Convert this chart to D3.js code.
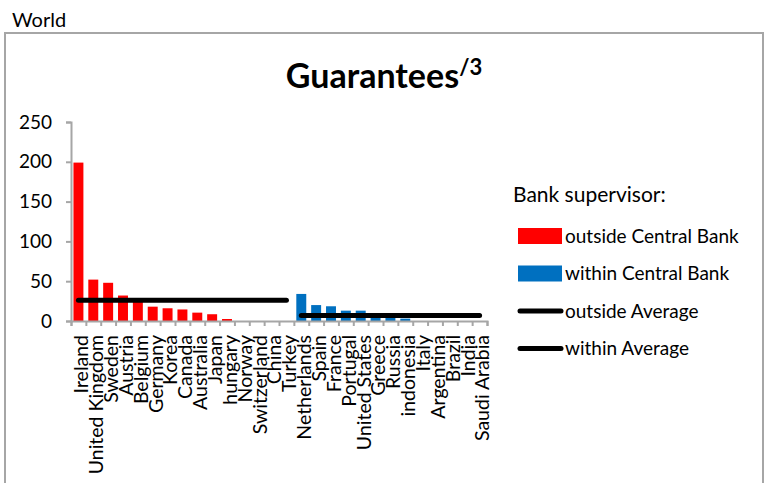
<!DOCTYPE html>
<html>
<head>
<meta charset="utf-8">
<script src="https://cdn.jsdelivr.net/npm/d3@7"></script>
<style>
  html, body { margin: 0; padding: 0; background: #fff; }
  svg { display: block; font-family: Lato, "Open Sans", sans-serif; }
</style>
</head>
<body>
<svg id="chart" width="765" height="483"></svg>
<script>
// Countries grouped by where the bank supervisor sits
const outsideCountries = ["Ireland", "United Kingdom", "Sweden", "Austria", "Belgium", "Germany", "Korea",
  "Canada", "Australia", "Japan", "hungary", "Norway", "Switzerland", "China", "Turkey"];
const outsideValues = [199, 52, 48, 32, 25, 18, 16, 14.5, 10.5, 8.5, 2.5, 0, 0, 0, 0];

const withinCountries = ["Netherlands", "Spain", "France", "Portugal", "United States", "Greece", "Russia",
  "indonesia", "Italy", "Argentina", "Brazil", "India", "Saudi Arabia"];
const withinValues = [34, 20, 18.5, 13, 13, 6, 5, 3, 0, 0, 0, 0, 0];

// Group averages drawn as horizontal lines
const averageNames = ["outside Average", "within Average"];
const averageValues = [26, 7];

const yTicks = [0, 50, 100, 150, 200, 250];

const groups = [
  { key: "outside Central Bank", color: "#ff0000", countries: outsideCountries, values: outsideValues },
  { key: "within Central Bank", color: "#0070c0", countries: withinCountries, values: withinValues }
];

const rows = groups.flatMap(g => g.countries.map((c, i) => ({ country: c, value: g.values[i], color: g.color })));

const svg = d3.select("#chart");
const grey = "#a6a6a6";

// Outer frame and caption
svg.append("rect")
  .attr("x", 5).attr("y", 33).attr("width", 758).attr("height", 520)
  .attr("fill", "none").attr("stroke", grey).attr("stroke-width", 2);

svg.append("text").attr("x", 12).attr("y", 27)
  .attr("font-size", 20).attr("fill", "#000").text("World");

// Title with superscript note marker
const title = svg.append("text").attr("x", 384).attr("y", 88)
  .attr("text-anchor", "middle").attr("font-weight", "bold").attr("font-size", 34);
title.append("tspan").text("Guarantees");
title.append("tspan").attr("font-size", 22).attr("dy", -13).text("/3");

// Scales
const x0 = 71, x1 = 487;
const x = d3.scaleBand().domain(rows.map(d => d.country)).range([x0, x1]).paddingInner(0.33).paddingOuter(0.165);
const xEdge = d3.scaleLinear().domain([0, rows.length]).range([x0, x1]);
const y = d3.scaleLinear().domain([0, 250]).range([321, 122]);

// Bars
svg.append("g").selectAll("rect").data(rows).join("rect")
  .attr("x", d => x(d.country))
  .attr("width", x.bandwidth())
  .attr("y", d => y(d.value))
  .attr("height", d => y(0) - y(d.value))
  .attr("fill", d => d.color);

// Y axis
const yAxis = svg.append("g").attr("transform", `translate(${x0},0)`)
  .call(d3.axisLeft(y).tickValues(yTicks).tickSize(5).tickPadding(14));
yAxis.select(".domain").attr("stroke", grey).attr("stroke-width", 2);
yAxis.selectAll(".tick line").attr("stroke", grey).attr("stroke-width", 2);
yAxis.selectAll(".tick text").attr("font-size", 19).attr("fill", "#000")
  .attr("font-family", "Lato, sans-serif");

// X axis: ticks on category boundaries
const xAxis = svg.append("g").attr("transform", `translate(0,${y(0)})`)
  .call(d3.axisBottom(xEdge).tickValues(d3.range(rows.length + 1)).tickSize(5).tickFormat(""));
xAxis.select(".domain").attr("stroke", grey).attr("stroke-width", 2);
xAxis.selectAll(".tick line").attr("stroke", grey).attr("stroke-width", 2);

// Category labels, rotated
const labelAxis = svg.append("g").attr("transform", `translate(0,${y(0)})`)
  .call(d3.axisBottom(x).tickSize(0).tickPadding(0));
labelAxis.select(".domain").remove();
labelAxis.selectAll(".tick text")
  .attr("font-size", 19.5).attr("fill", "#000")
  .attr("font-family", "Lato, sans-serif")
  .attr("text-anchor", "end")
  .attr("transform", "translate(3,14) rotate(-90)")
  .attr("x", 0).attr("y", 0).attr("dy", "0.35em");

// Average lines spanning each group
groups.forEach((g, gi) => {
  const first = g.countries[0], last = g.countries[g.countries.length - 1];
  svg.append("line")
    .attr("x1", x(first) + x.bandwidth() / 2)
    .attr("x2", x(last) + x.bandwidth() / 2)
    .attr("y1", y(averageValues[gi])).attr("y2", y(averageValues[gi]))
    .attr("stroke", "#000").attr("stroke-width", 5).attr("stroke-linecap", "round");
});

// Legend
const legend = svg.append("g").attr("font-size", 19).attr("fill", "#000");
legend.append("text").attr("x", 513).attr("y", 202).attr("font-size", 21).text("Bank supervisor:");
const items = [
  { label: groups[0].key, type: "rect", color: groups[0].color },
  { label: groups[1].key, type: "rect", color: groups[1].color },
  { label: averageNames[0], type: "line", color: "#000" },
  { label: averageNames[1], type: "line", color: "#000" }
];
items.forEach((it, i) => {
  const cy = 236 + i * 37.5;
  if (it.type === "rect") {
    legend.append("rect").attr("x", 518).attr("y", cy - 8).attr("width", 44).attr("height", 16).attr("fill", it.color);
  } else {
    legend.append("line").attr("x1", 520).attr("x2", 561).attr("y1", cy).attr("y2", cy)
      .attr("stroke", it.color).attr("stroke-width", 5).attr("stroke-linecap", "round");
  }
  legend.append("text").attr("x", 565).attr("y", cy).attr("dy", "0.35em").text(it.label);
});
</script>
</body>
</html>
